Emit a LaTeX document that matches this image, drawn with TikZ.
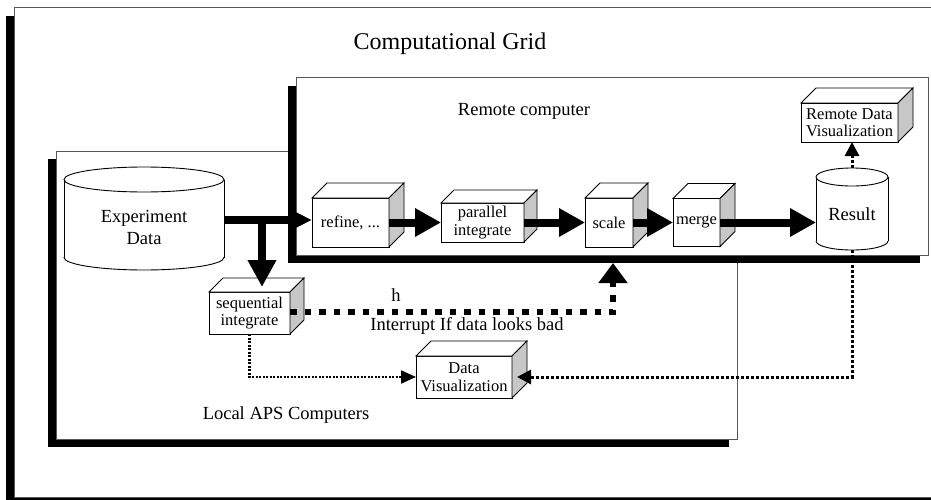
\documentclass[tikz,border=0pt]{standalone}
\usepackage{fontspec}
\setmainfont{Liberation Serif}
\usetikzlibrary{arrows.meta,calc,shadows}

\definecolor{sidegray}{gray}{0.78}
\newcommand\titlefont{\fontsize{24}{28}\selectfont}
\newcommand\labelfont{\fontsize{18.5}{22}\selectfont}
\newcommand\boxfont{\fontsize{16.5}{17.5}\selectfont}

% top and right faces of a box node, #1 = node name, #2 = depth
\newcommand\cubefaces[2]{%
  \draw[cubeline, fill=white] (#1.north west) -- ++(#2,-#2)
    -- ($(#1.north east)+(#2,-#2)$) -- (#1.north east) -- cycle;
  \draw[cubeline, fill=sidegray] (#1.north east) -- ++(#2,-#2)
    -- ($(#1.south east)+(#2,-#2)$) -- (#1.south east) -- cycle;
}

\tikzset{
  cubeline/.style={line width=0.9pt, line join=miter},
  panel/.style={draw=black!65, line width=1pt, fill=white, outer sep=0pt,
    inner sep=0pt, drop shadow={shadow xshift=-8pt, shadow yshift=-8pt,
    opacity=1, fill=black}},
  cube/.style={draw, cubeline, fill=white, outer sep=0pt, inner sep=1pt,
    align=center, font=\boxfont},
  lbl/.style={inner sep=0pt, align=center, font=\labelfont},
  drumlbl/.style={inner sep=0pt, outer sep=0pt, align=center, font=\labelfont},
  heavy/.style={line width=8pt, -{Triangle[length=26pt,width=27pt]}},
  heavydash/.style={line width=6.5pt, dash pattern=on 6.5pt off 8pt,
    -{Triangle[length=20pt,width=28pt]}},
  fine/.style={line width=2.2pt, dash pattern=on 2pt off 1.5pt,
    -{Triangle[length=15pt,width=13pt]}},
  finebold/.style={line width=3pt, dash pattern=on 3pt off 2pt,
    -{Triangle[length=14pt,width=14pt]}},
}

\begin{document}
\begin{tikzpicture}[x=1pt,y=-1pt]
\useasboundingbox (0,0) rectangle (931,500);

% panels
\node[panel, minimum width=926pt, minimum height=489pt] (grid) at (477,252.5) {};
\node[panel, minimum width=681pt, minimum height=288pt] (local) at (396.5,295) {};
\node[panel, minimum width=632pt, minimum height=177pt] (remote) at (612,166.5) {};

\node[inner sep=0pt, font=\titlefont] (title) at (450,44) {Computational Grid};
\node[lbl] (remotelbl) at (524,111) {Remote computer};
\node[lbl] (locallbl) at (286,415) {Local APS Computers};

% experiment data store
\fill[white] (64,179.5) rectangle (224,257.5);
\fill[white] (144,257.5) ellipse (80 and 12.5);
\draw[cubeline] (64,179.5) -- (64,257.5) (224,179.5) -- (224,257.5);
\begin{scope}
  \clip (58,257.5) rectangle (230,276);
  \draw[cubeline] (144,257.5) ellipse (80 and 12.5);
\end{scope}
\draw[cubeline, fill=white] (144,179.5) ellipse (80 and 12.5);
\node[drumlbl, minimum width=160pt] (exp) at (144,227) {Experiment\\Data};

% result store
\fill[white] (816,177) rectangle (888,241);
\fill[white] (852,241) ellipse (36 and 9);
\draw[cubeline] (816,177) -- (816,241) (888,177) -- (888,241);
\begin{scope}
  \clip (810,241) rectangle (894,256);
  \draw[cubeline] (852,241) ellipse (36 and 9);
\end{scope}
\draw[cubeline, fill=white] (852,177) ellipse (36 and 9);
\node[drumlbl, minimum width=72pt, minimum height=72pt] (result) at (852,214) {Result};

% processing boxes
\node[cube, minimum width=77pt, minimum height=49pt] (refine) at (350.5,222.5) {refine, ...};
\cubefaces{refine}{15}
\node[cube, minimum width=83pt, minimum height=39pt] (parallel) at (482.5,222.5) {parallel\\integrate};
\cubefaces{parallel}{13}
\node[cube, minimum width=48pt, minimum height=49pt] (scale) at (609,222.5) {scale};
\cubefaces{scale}{15}
\node[cube, minimum width=47pt, minimum height=48pt] (merge) at (696.5,222.5) {merge};
\cubefaces{merge}{15}
\node[cube, minimum width=97pt, minimum height=39pt] (remviz) at (849.5,122.5) {Remote Data\\Visualization};
\cubefaces{remviz}{15}
\node[cube, minimum width=81pt, minimum height=42pt] (seq) at (249.5,313) {sequential\\integrate};
\cubefaces{seq}{14}
\node[cube, minimum width=96pt, minimum height=42pt] (dataviz) at (464,377) {Data\\Visualization};
\cubefaces{dataviz}{15}

% main data flow
\coordinate (split) at (262,220);
\coordinate (seqtop) at ([yshift=5pt]seq.north);
\draw[line width=8pt, -{Triangle[length=24pt,width=22pt]}] (exp.east |- split) -- (refine.west |- split);
\draw[line width=8pt, -{Triangle[length=27pt,width=27pt]}] (split) -- (split |- seqtop);
\draw[heavy] (refine.east) -- (parallel.west);
\draw[heavy] (parallel.east) -- (scale.west);
\draw[heavy] (scale.east) -- (merge.west);
\draw[heavy] (merge.east) -- (result.west |- merge.east);

% interrupt path
\coordinate (turn) at (613,312);
\coordinate (rshadow) at ([yshift=-8pt]remote.south);
\draw[heavydash] (seq.east |- turn) -- (turn) -- (turn |- rshadow);
\node[lbl] (hmark) at (396,295) {h};
\node[lbl] (interrupt) at (467,326) {Interrupt If data looks bad};

% visualization paths
\coordinate (restop) at ([yshift=10pt]result.north);
\draw[finebold] (restop) -- (restop |- remviz.south);
\draw[fine] (seq.south) -- (seq.south |- dataviz.west) -- (dataviz.west);
\draw[finebold] (result.south) -- (result.south |- dataviz.east) -- ([xshift=5pt]dataviz.east);
\end{tikzpicture}
\end{document}
